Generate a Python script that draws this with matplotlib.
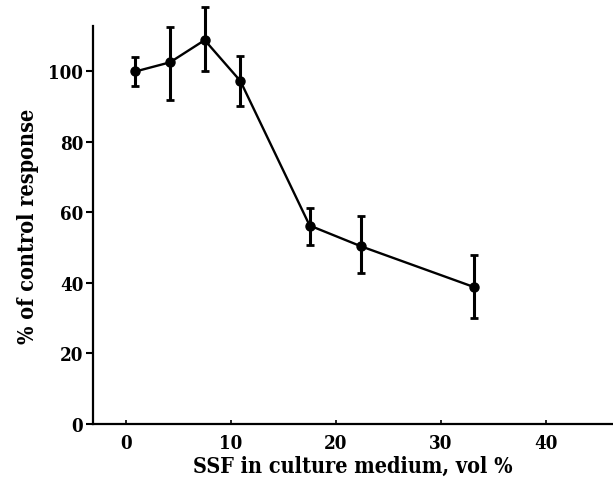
import matplotlib
matplotlib.use("Agg")
import matplotlib.pyplot as plt

ssf_vol = [0.9, 4.2, 7.5, 10.9, 17.5, 22.4, 33.2]
response = [100.0, 102.6, 108.9, 97.3, 56.3, 50.4, 38.8]
err_upper = [104.2, 112.5, 118.2, 104.3, 61.3, 59.1, 47.9]
err_lower = [95.8, 91.9, 100.0, 90.1, 50.9, 42.8, 30.2]
xticks = [0, 10, 20, 30, 40]
yticks = [0, 20, 40, 60, 80, 100]

plt.rcParams['font.family'] = ['DejaVu Serif']
plt.rcParams['font.stretch'] = 'condensed'
plt.rcParams['font.weight'] = 'bold'

fig = plt.figure(figsize=(6.13, 4.85), dpi=100)
ax = fig.add_axes([93/613, 1-425/485, (613-93)/613, (425-27)/485])

yerr = [[r - lo for r, lo in zip(response, err_lower)],
        [hi - r for r, hi in zip(response, err_upper)]]
ax.errorbar(ssf_vol, response, yerr=yerr, fmt='o-', color='black',
            markersize=6.5, linewidth=1.7, elinewidth=2.2, capsize=3,
            capthick=2.0, clip_on=False)

ax.set_xlim(-3.14, 46.4)
ax.set_ylim(0, 112.9)
ax.spines['top'].set_visible(False)
ax.spines['right'].set_visible(False)
ax.spines['left'].set_linewidth(1.6)
ax.spines['bottom'].set_linewidth(1.6)

ax.set_xticks(xticks)
ax.set_yticks(yticks)
ax.tick_params(axis='y', direction='out', length=5, width=1.5, labelsize=13.5, pad=2)
ax.tick_params(axis='x', direction='in', length=3, width=1.2, labelsize=13.5, pad=7)
for lab in ax.get_xticklabels() + ax.get_yticklabels():
    lab.set_fontweight('bold')

ax.set_xlabel('SSF in culture medium, vol %', fontsize=15.5, fontweight='bold', labelpad=2)
ax.set_ylabel('% of control response', fontsize=15.5, fontweight='bold', labelpad=6.5)

fig.savefig('out.png', dpi=100)
